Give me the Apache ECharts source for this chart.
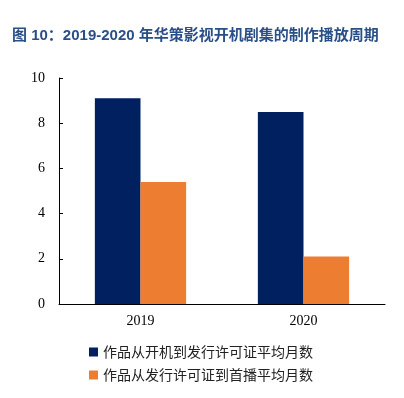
<!DOCTYPE html>
<html>
<head>
<meta charset="utf-8">
<style>
  html, body { margin: 0; padding: 0; background: #fff; }
  #chart { width: 404px; height: 398px; }
</style>
<script src="https://cdn.jsdelivr.net/npm/echarts@6/dist/echarts.min.js"></script>
</head>
<body>
<div id="chart"></div>
<script>
var categories = ['2019', '2020'];
var startToLicense = [9.1, 8.5];
var licenseToAir = [5.4, 2.1];
var seriesNames = ['作品从开机到发行许可证平均月数', '作品从发行许可证到首播平均月数'];

var chart = echarts.init(document.getElementById('chart'));
chart.setOption({
  backgroundColor: '#fff',
  animation: false,
  title: {
    text: '图 10：2019-2020 年华策影视开机剧集的制作播放周期',
    left: 7,
    top: 23,
    textStyle: {
      color: '#2a4f86',
      fontSize: 15,
      fontWeight: 'bold',
      fontFamily: 'Liberation Sans, Noto Sans CJK SC'
    }
  },
  grid: { left: 59, right: 19, top: 78, bottom: 94 },
  legend: {
    orient: 'vertical',
    left: 84,
    top: 340,
    itemWidth: 9,
    itemHeight: 9,
    itemGap: 9,
    icon: 'rect',
    textStyle: { fontSize: 14, color: '#222', fontFamily: 'Noto Sans CJK SC' },
    data: seriesNames
  },
  xAxis: {
    type: 'category',
    data: categories,
    axisTick: { show: false },
    axisLine: { lineStyle: { color: '#000', width: 1 } },
    axisLabel: { color: '#000', fontSize: 14, fontFamily: 'Liberation Serif', margin: 10 }
  },
  yAxis: {
    type: 'value',
    min: 0,
    max: 10,
    interval: 2,
    splitLine: { show: false },
    axisLine: { show: true, lineStyle: { color: '#000', width: 1 } },
    axisTick: { show: true, inside: true, length: 4, lineStyle: { color: '#000' } },
    axisLabel: { color: '#000', fontSize: 14, fontFamily: 'Liberation Serif', margin: 14 }
  },
  series: [
    {
      name: seriesNames[0],
      type: 'bar',
      data: startToLicense,
      barWidth: '28%',
      barGap: '0%',
      itemStyle: { color: '#002060' }
    },
    {
      name: seriesNames[1],
      type: 'bar',
      data: licenseToAir,
      barWidth: '28%',
      itemStyle: { color: '#ed7d31' }
    }
  ]
});
</script>
</body>
</html>
